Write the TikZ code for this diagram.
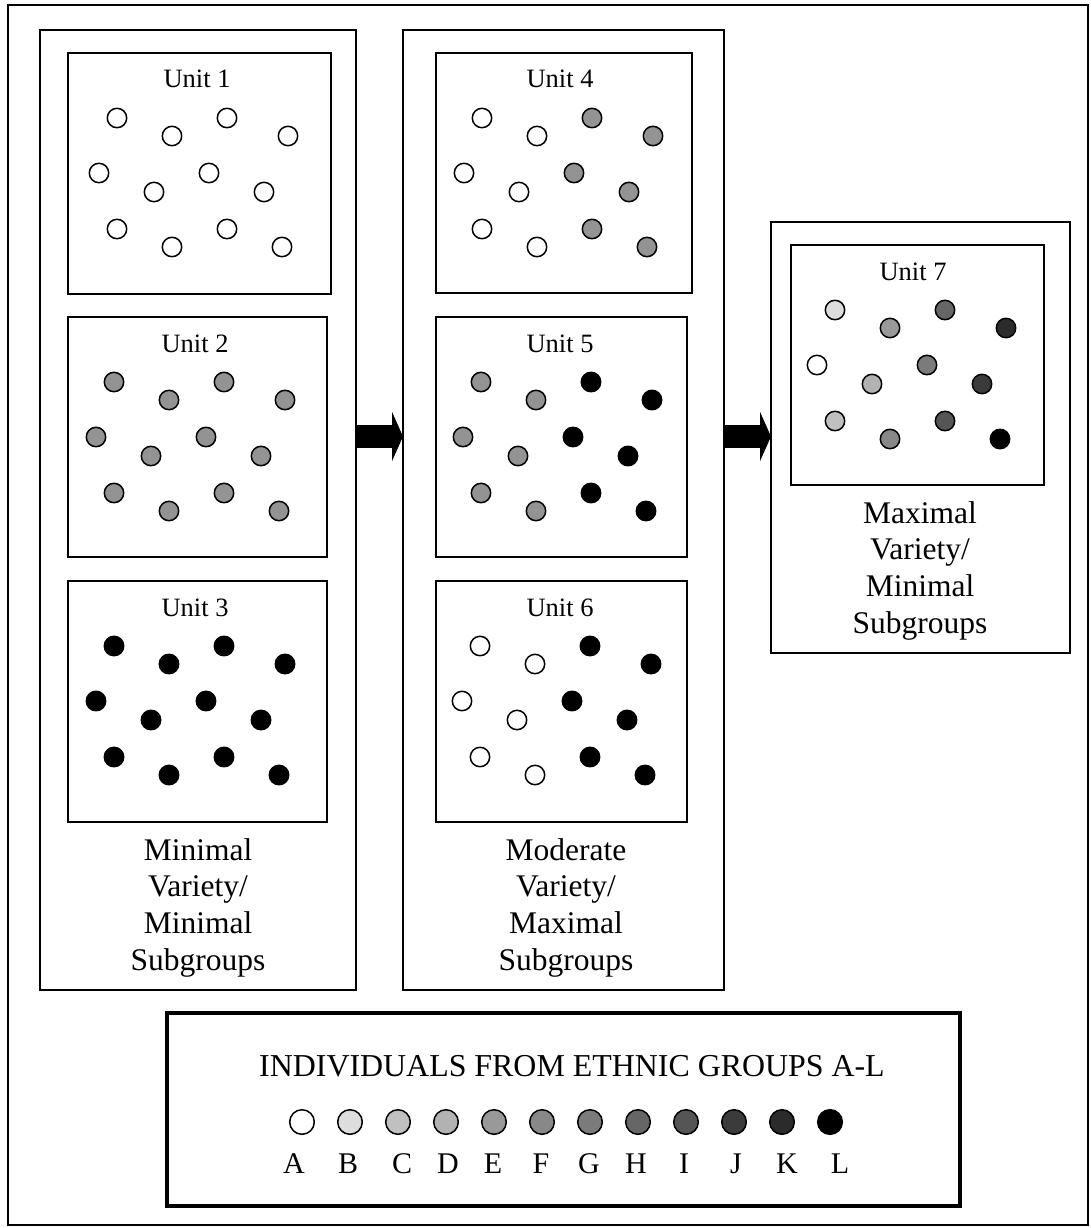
\documentclass[tikz,border=0pt]{standalone}
\usepackage{fontspec}
\setmainfont{Liberation Serif}
\usetikzlibrary{arrows.meta}
\definecolor{cA}{HTML}{FFFFFF}
\definecolor{cB}{HTML}{DDDDDD}
\definecolor{cC}{HTML}{C0C0C0}
\definecolor{cD}{HTML}{B2B2B2}
\definecolor{cE}{HTML}{999999}
\definecolor{cF}{HTML}{888888}
\definecolor{cG}{HTML}{7B7B7B}
\definecolor{cH}{HTML}{666666}
\definecolor{cI}{HTML}{555555}
\definecolor{cJ}{HTML}{3B3B3B}
\definecolor{cK}{HTML}{2B2B2B}
\definecolor{cL}{HTML}{000000}
\definecolor{cM}{HTML}{939393}
\tikzset{
  box/.style={draw=black, line width=1.6pt, anchor=north west, inner sep=0pt, outer sep=0pt},
  legendbox/.style={draw=black, line width=3.3pt, anchor=north west, inner sep=0pt, outer sep=0pt},
  dotst/.style={draw=black, line width=1.5pt},
  unitlabel/.style={anchor=base, inner sep=0pt, font=\fontsize{26.5}{31}\selectfont},
  bigtext/.style={anchor=base, inner sep=0pt, font=\fontsize{31.5}{37}\selectfont},
  fatarrow/.style={line width=23pt, -{Triangle[length=11pt,width=49pt]}},
}
\newcommand\unitdots[3]{%
  \foreach \c [count=\i from 0] in {#3}{
    \pgfmathsetmacro\dx{{46,101,156,217,28,83,138,193,46,101,156,211}[\i]}
    \pgfmathsetmacro\dy{{65,83,65,83,120,139,120,139,176,194,176,194}[\i]}
    \draw[dotst, fill=\c] (#1+\dx,#2+\dy) circle[radius=9.7];
  }}
\begin{document}
\begin{tikzpicture}[x=1pt,y=-1pt]
\useasboundingbox (0,0) rectangle (1091,1228);
% outer frame
\node[box, line width=1.5pt, minimum width=1080pt, minimum height=1220pt] (frame) at (8,5) {};
% columns
\node[box, minimum width=316pt, minimum height=960pt] (col1) at (40,30) {};
\node[box, minimum width=321pt, minimum height=960pt] (col2) at (403,30) {};
\node[box, minimum width=299pt, minimum height=431pt] (col3) at (771,222) {};
% unit boxes
\node[box, minimum width=263pt, minimum height=241pt] (u1) at (68,53) {};
\node[box, minimum width=259pt, minimum height=240pt] (u2) at (68,317) {};
\node[box, minimum width=259pt, minimum height=241pt] (u3) at (68,581) {};
\node[box, minimum width=256pt, minimum height=240pt] (u4) at (436,53) {};
\node[box, minimum width=251pt, minimum height=240pt] (u5) at (436,317) {};
\node[box, minimum width=251pt, minimum height=241pt] (u6) at (436,581) {};
\node[box, minimum width=253pt, minimum height=240pt] (u7) at (791,245) {};
% unit labels
\node[unitlabel] (l1) at (197,88) {Unit 1};
\node[unitlabel] (l2) at (195,352) {Unit 2};
\node[unitlabel] (l3) at (195,616) {Unit 3};
\node[unitlabel] (l4) at (560,88) {Unit 4};
\node[unitlabel] (l5) at (560,352) {Unit 5};
\node[unitlabel] (l6) at (560,616) {Unit 6};
\node[unitlabel] (l7) at (913,280) {Unit 7};
% dots
\unitdots{71}{53}{cA,cA,cA,cA,cA,cA,cA,cA,cA,cA,cA,cA}
\unitdots{68}{317}{cM,cM,cM,cM,cM,cM,cM,cM,cM,cM,cM,cM}
\unitdots{68}{581}{cL,cL,cL,cL,cL,cL,cL,cL,cL,cL,cL,cL}
\unitdots{436}{53}{cA,cA,cM,cM,cA,cA,cM,cM,cA,cA,cM,cM}
\unitdots{435}{317}{cM,cM,cL,cL,cM,cM,cL,cL,cM,cM,cL,cL}
\unitdots{434}{581}{cA,cA,cL,cL,cA,cA,cL,cL,cA,cA,cL,cL}
\unitdots{789}{245}{cB,cE,cH,cK,cA,cD,cG,cJ,cC,cF,cI,cL}
% column captions
\node[bigtext] (c1a) at (198,860) {Minimal};
\node[bigtext] (c1b) at (198,896.7) {Variety/};
\node[bigtext] (c1c) at (198,933.3) {Minimal};
\node[bigtext] (c1d) at (198,970) {Subgroups};
\node[bigtext] (c2a) at (566,860) {Moderate};
\node[bigtext] (c2b) at (566,896.7) {Variety/};
\node[bigtext] (c2c) at (566,933.3) {Maximal};
\node[bigtext] (c2d) at (566,970) {Subgroups};
\node[bigtext] (c3a) at (920,523) {Maximal};
\node[bigtext] (c3b) at (920,559.7) {Variety/};
\node[bigtext] (c3c) at (920,596.3) {Minimal};
\node[bigtext] (c3d) at (920,633) {Subgroups};
% arrows
\coordinate (ay) at (0,436.5);
\draw[fatarrow] (col1.east |- ay) -- (col2.west |- ay);
\draw[fatarrow] (col2.east |- ay) -- (col3.west |- ay);
% legend
\node[legendbox, minimum width=793pt, minimum height=193pt] (legend) at (167,1013) {};
\node[anchor=base, inner sep=0pt, font=\fontsize{31.9}{37}\selectfont] (ltitle) at (572,1076) {INDIVIDUALS FROM ETHNIC GROUPS A-L};
\foreach \l/\x [count=\i from 0] in {A/294,B/348,C/402,D/448,E/493,F/541,G/589,H/636,I/684,J/736,K/787,L/840}{
  \draw[dotst, fill=c\l] (302+48*\i,1122) circle[radius=12.3];
  \node[anchor=base, inner sep=0pt, font=\fontsize{30}{36}\selectfont] (leg\l) at (\x,1173) {\l};
}
\end{tikzpicture}
\end{document}
